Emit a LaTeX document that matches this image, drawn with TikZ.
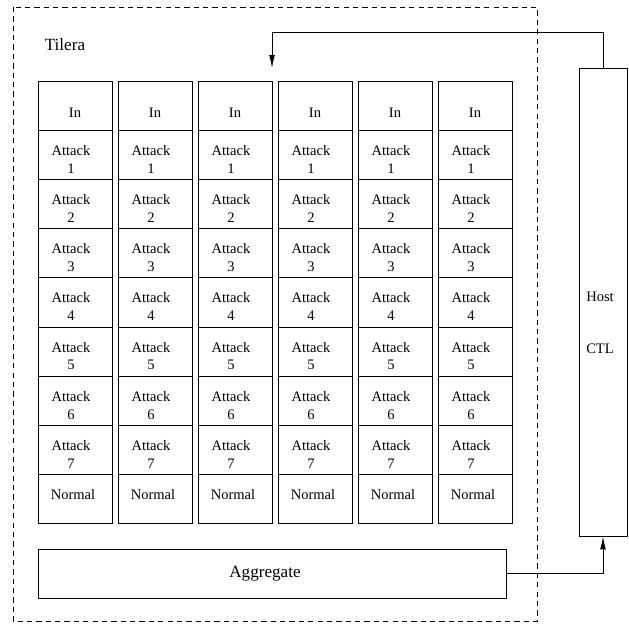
\documentclass[tikz,border=0pt]{standalone}
\usepackage{fontspec}
\setmainfont{Liberation Serif}
\usetikzlibrary{arrows.meta}

\tikzset{
  cell/.style={draw, minimum width=2.22cm, minimum height=1.476cm, inner sep=0pt},
  txt/.style={align=center, inner sep=0pt, font=\fontsize{12.4}{15.3}\selectfont},
  bigtxt/.style={txt, font=\fontsize{14.6}{17}\selectfont},
}

\begin{document}
\begin{tikzpicture}[x=0.03cm,y=-0.03cm,line width=0.8pt,>={Latex[length=11pt,width=5pt]}]
    \useasboundingbox (0,0) rectangle (629,623);

    % the tilera board
    \draw[dash pattern=on 4.5pt off 3.5pt] (13,7) rectangle (537,621);
    \node[bigtxt] (tilera) at (65,45) {Tilera};

    % the six columns of cells
    \foreach \i in {0,...,5}{
        \pgfmathsetmacro\cx{75+80*\i}
        \node[cell] (in\i) at (\cx,105.6) {};
        \node[txt] at (\cx,113) {In};
        \foreach \j in {1,...,7}{
            \node[cell] (att\i\j) at (\cx,105.6+49.2*\j) {};
            \node[txt] at (\cx-4,110+49.2*\j) {Attack\\\j};
        }
        \node[cell] (norm\i) at (\cx,105.6+49.2*8) {};
        \node[txt] at (\cx-2,494.6) {Normal};
    }

    % aggregate
    \node[cell, minimum width=14.04cm, minimum height=1.47cm] (agg) at (272,573.5) {};
    \node[bigtxt] at (265,574) {Aggregate};

    % host
    \node[cell, minimum width=1.44cm, minimum height=14.04cm] (host) at (603,302) {};
    \node[txt] at (600,297) {Host};
    \node[txt] at (600,349) {CTL};

    % links
    \coordinate (up) at (603,32);
    \coordinate (entry) at (272,68);
    \draw[->] (agg.east) -| (host.south);
    \draw[->] (host.north) -- (up) -| (entry);

\end{tikzpicture}
\end{document}
